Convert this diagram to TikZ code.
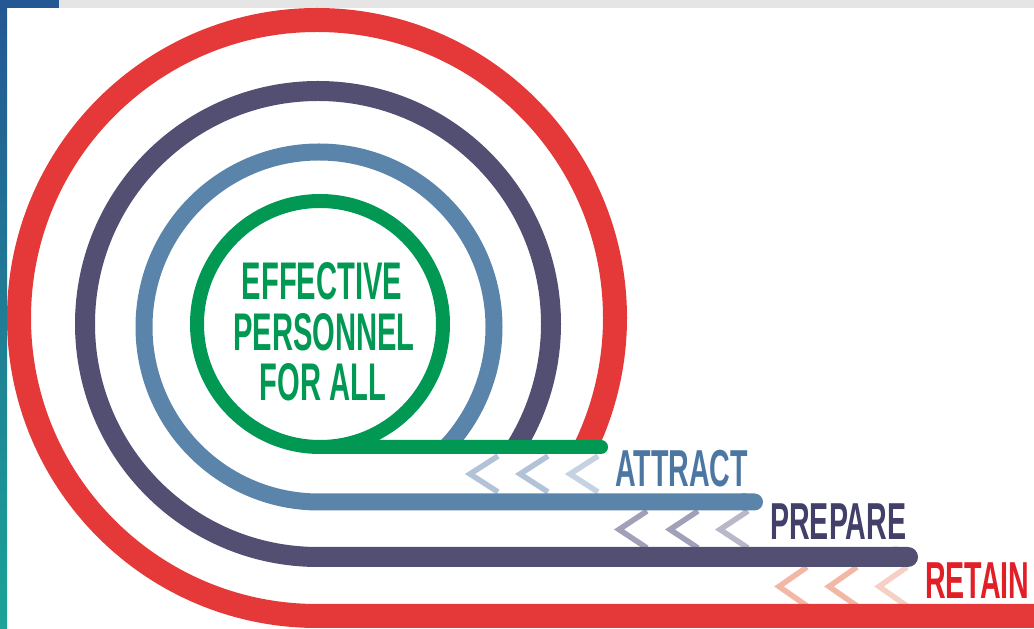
\documentclass[tikz,border=0pt]{standalone}
\usepackage{fontspec}
\usepackage{tikz}
\usetikzlibrary{arrows.meta}
\newfontfamily\condfont[FakeStretch=0.55]{Liberation Sans}
\definecolor{ringred}{RGB}{229,57,57}
\definecolor{ringnavy}{RGB}{82,79,114}
\definecolor{ringblue}{RGB}{91,132,170}
\definecolor{ringgreen}{RGB}{0,152,82}
\definecolor{txtblue}{RGB}{76,119,163}
\definecolor{txtnavy}{RGB}{66,64,104}
\definecolor{txtred}{RGB}{226,30,38}
\definecolor{chevblue}{RGB}{178,195,216}
\definecolor{chevnavy}{RGB}{160,160,185}
\definecolor{chevred}{RGB}{243,183,166}
\definecolor{barblue}{RGB}{36,88,148}

\begin{document}
\begin{tikzpicture}[x=1pt, y=1pt,
		  ring/.style={line width=#1, line cap=butt},
		  chev/.style={line width=5.5pt},
		  tag/.style={font=\condfont\bfseries\fontsize{52}{52}\selectfont, inner sep=0pt, anchor=base west},
		  core/.style={font=\condfont\bfseries\fontsize{53}{53}\selectfont, inner sep=0pt, anchor=base, text=ringgreen}]
		  \useasboundingbox (0,0) rectangle (1034,629);
		  % frame
		  \fill[gray!20] (59,621) rectangle (1034,629);
		  \fill[barblue] (0,621) rectangle (59,629);
		  \shade[top color=barblue, middle color={rgb,255:red,38;green,140;blue,192}, bottom color={rgb,255:red,26;green,163;blue,150}] (0,0) rectangle (7,621);
		  % chevrons
		  \foreach \x/\c in {470/chevblue,520/chevblue,570/chevblue!75}{
		      \draw[chev, \c] (\x+28,173) -- (\x,155) -- (\x+28,137);
		  }
		  \foreach \x/\c in {619/chevnavy,670/chevnavy,720/chevnavy!75}{
		      \draw[chev, \c] (\x+28,118) -- (\x,99.5) -- (\x+28,81);
		  }
		  \foreach \x/\c in {779/chevred,829/chevred,879/chevred!65}{
		      \draw[chev, \c] (\x+28,62) -- (\x,42.5) -- (\x+28,23);
		  }
		  % rings, outer first
		  \draw[ring=24pt, ringred] (1040,13) -- (317,13) arc[start angle=270, end angle=-25.6, radius=298];
		  \draw[ring=20pt, ringnavy, {Round Cap[]}-] (918,72) -- (318,72) arc[start angle=270, end angle=-31.9, radius=233];
		  \draw[ring=17pt, ringblue, {Round Cap[]}-] (763,127) -- (319,127) arc[start angle=270, end angle=-43.3, radius=175];
		  \draw[ring=14pt, ringgreen, {Round Cap[]}-] (608,182) -- (320,182) arc[start angle=270, end angle=-90, radius=123];
		  % labels
		  \node[core] (eff) at (322,329) {EFFECTIVE};
		  \node[core] (pers) at (324,278) {PERSONNEL};
		  \node[core] (all) at (323,228) {FOR ALL};
		  \node[tag, text=txtblue] (attract) at (615,142) {ATTRACT};
		  \node[tag, text=txtnavy] (prepare) at (770,89) {PREPARE};
		  \node[tag, text=txtred] (retain) at (925,30) {RETAIN};
\end{tikzpicture}
\end{document}
